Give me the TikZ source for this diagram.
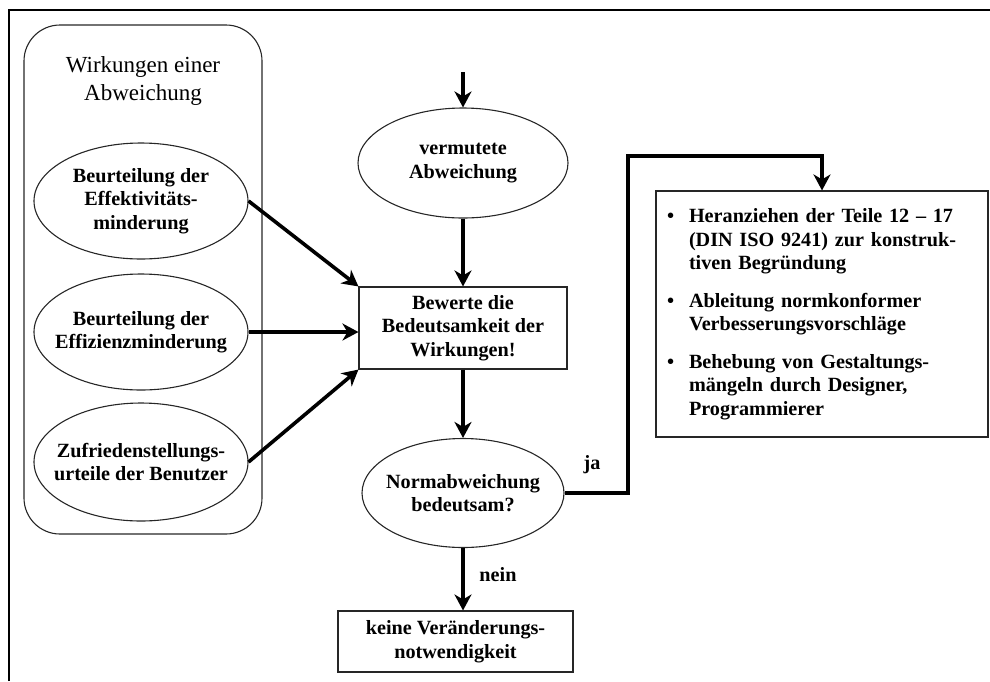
\documentclass[tikz,border=0pt]{standalone}
\usepackage{fontspec}
\setmainfont{Liberation Serif}
\usetikzlibrary{arrows.meta,shapes.geometric}
\newcommand{\punkt}{\makebox[22pt][l]{\textbullet}}
\newcommand{\einzug}{\hspace*{22pt}}
\begin{document}
\begin{tikzpicture}[x=1pt,y=-1pt,
    every node/.style={font=\bfseries\fontsize{20.2}{23.5}\selectfont,align=center},
    oval/.style={draw=black!85,line width=1.1pt,ellipse,inner sep=0pt},
    kasten/.style={draw=black!85,line width=1.1pt,rectangle,inner sep=0pt},
    pfeil/.style={line width=3.6pt,-{Stealth[length=16pt,width=17pt,inset=5pt]}}]
        \path[use as bounding box] (0,0) rectangle (990,681);
        \draw[line width=2.2pt] (9,681) -- (9,10) -- (990,10);
        \draw[draw=black!85,line width=1.1pt,rounded corners=36pt] (24,25) rectangle (262,534);
        \node[font=\fontsize{23}{28}\selectfont] (titel) at (143,81) {Wirkungen einer\\Abweichung};
        \node[oval,minimum width=214pt,minimum height=116pt] (eff) at (141,201) {};
        \node at (eff) {Beurteilung der\\Effektivitäts-\\minderung};
        \node[oval,minimum width=214pt,minimum height=116pt] (ezi) at (141,332) {};
        \node at (ezi) {Beurteilung der\\Effizienzminderung};
        \node[oval,minimum width=214pt,minimum height=118pt] (zuf) at (141,462) {};
        \node at (zuf) {Zufriedenstellungs-\\urteile der Benutzer};
        \node[oval,minimum width=210pt,minimum height=110pt] (verm) at (463,163) {};
        \node at (verm) {vermutete\\Abweichung};
        \node[kasten,minimum width=208pt,minimum height=82pt] (bew) at (463,328) {Bewerte die\\Bedeutsamkeit der\\Wirkungen!};
        \node[oval,minimum width=202pt,minimum height=109pt] (norm) at (463,493) {};
        \node at (norm) {Normabweichung\\bedeutsam?};
        \node[kasten,minimum width=235pt,minimum height=61pt] (keine) at (455.5,641.5) {keine Veränderungs-\\notwendigkeit};
        \node[kasten,minimum width=332pt,minimum height=246pt,text width=310pt,align=left] (re) at (822,314) {%
            \punkt Heranziehen der Teile 12 – 17\\
            \einzug(DIN ISO 9241) zur konstruk-\\
            \einzug tiven Begründung\\[14pt]
            \punkt Ableitung normkonformer\\
            \einzug Verbesserungsvorschläge\\[14pt]
            \punkt Behebung von Gestaltungs-\\
            \einzug mängeln durch Designer,\\
            \einzug Programmierer};
        \node (ja) at (592,465) {ja};
        \node (nein) at (498,575) {nein};
        \coordinate (start) at (463,72);
        \coordinate (knick) at (628,156);
        \draw[pfeil] (start) -- (verm.north);
        \draw[pfeil] (verm.south) -- (bew.north);
        \draw[pfeil] (eff.east) -- (bew.north west);
        \draw[pfeil] (ezi.east) -- (ezi.east -| bew.west);
        \draw[pfeil] (zuf.east) -- (bew.south west);
        \draw[pfeil] (bew.south) -- (norm.north);
        \draw[pfeil] (norm.south) -- (norm.south |- keine.north);
        \draw[pfeil] (norm.east) -| (knick) -| (re.north);
      \end{tikzpicture}
\end{document}
